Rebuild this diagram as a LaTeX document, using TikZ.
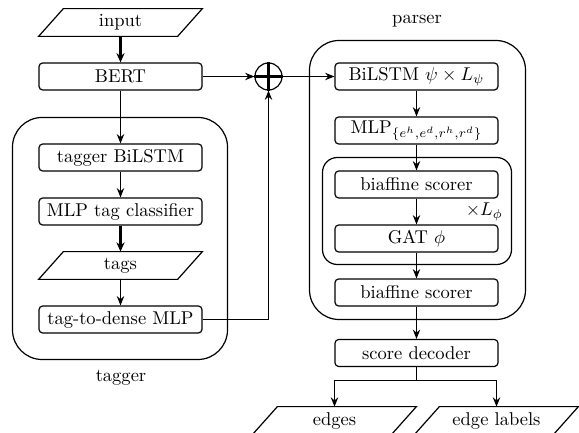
\documentclass[tikz,border=0pt]{standalone}
\usetikzlibrary{arrows.meta}
% outline of a data parallelogram drawn over a plain node of the same extent
\newcommand\paraoutline[1]{%
  \draw[plain] (#1.south west) -- ([xshift=75.06pt]#1.south west)
    -- (#1.north east) -- ([xshift=-75.06pt]#1.north east) -- cycle;}
\begin{document}
\begin{tikzpicture}[x=0.54pt,y=-0.54pt,
  plain/.style={line width=0.65pt},
  box/.style={draw, plain, rounded corners=2pt, minimum width=88.02pt,
    minimum height=14.58pt, inner sep=0pt},
  databox/.style={minimum width=88.02pt, minimum height=14.58pt, inner sep=0pt},
  group/.style={draw, plain, rounded corners=16pt},
  subgroup/.style={draw, plain, rounded corners=8pt},
  arr/.style={plain, -{Stealth[length=5pt,width=4pt]}},
  thickarr/.style={line width=1.1pt, -{Stealth[length=5pt,width=4.4pt]}}]
\useasboundingbox (0,0) rectangle (579,433);
\clip (0,0) rectangle (579,433);

% containers
\draw[group] (12.5,117.5) rectangle (227.5,359.5);
\draw[group] (309.5,40.5) rectangle (525.5,319.5);
\draw[subgroup] (322.5,157.5) rectangle (511.5,264.5);

% input side
\node[databox] (input) at (120.5,22.5) {input};
\paraoutline{input}
\node[box] (bert) at (120.5,76.5) {BERT};

% tagger
\node[box] (tbilstm) at (120.5,157.5) {tagger BiLSTM};
\node[box] (mlptag) at (120.5,211.5) {MLP tag classifier};
\node[databox] (tags) at (120.5,265.5) {tags};
\paraoutline{tags}
\node[box] (dense) at (120.5,319.5) {tag-to-dense MLP};
\node (taggerlabel) at (121,378) {tagger};

% combination
\node[circle, draw, plain, minimum size=14.58pt, inner sep=0pt] (plus) at (268.5,76.5) {};
\draw[line width=1.1pt] (plus.north) -- (plus.south) (plus.west) -- (plus.east);

% parser
\node (parserlabel) at (417,21) {parser};
\node[box] (pbilstm) at (416.5,76.5) {BiLSTM $\psi \times L_\psi$};
\node[box] (mlp) at (416.5,130.5) {MLP$_{\{e^h,e^d,r^h,r^d\}}$};
\node[box] (biaf1) at (416.5,184.5) {biaffine scorer};
\node[anchor=east, inner sep=0pt] (lphi) at (503,212) {$\times L_\phi$};
\node[box] (gat) at (416.5,238.5) {GAT $\phi$};
\node[box] (biaf2) at (416.5,292.5) {biaffine scorer};
\node[box] (decoder) at (416.5,353) {score decoder};

% outputs
\node[databox] (edges) at (334.5,420.5) {edges};
\paraoutline{edges}
\node[databox] (elabels) at (496.5,420.5) {edge labels};
\paraoutline{elabels}
\coordinate (split) at (416.5,380.5);

% connectors
\draw[thickarr] (input) -- (bert);
\draw[arr] (bert) -- (tbilstm);
\draw[arr] (tbilstm) -- (mlptag);
\draw[thickarr] (mlptag) -- (tags);
\draw[arr] (tags) -- (dense);
\draw[arr] (bert) -- (plus);
\draw[arr] (dense.east) -| (plus.south);
\draw[arr] (plus) -- (pbilstm);
\draw[arr] (pbilstm) -- (mlp);
\draw[arr] (mlp) -- (biaf1);
\draw[arr] (biaf1) -- (gat);
\draw[arr] (gat) -- (biaf2);
\draw[arr] (biaf2) -- (decoder);
\draw[plain] (decoder) -- (split);
\draw[arr] (split) -| (edges);
\draw[arr] (split) -| (elabels);
\end{tikzpicture}
\end{document}
